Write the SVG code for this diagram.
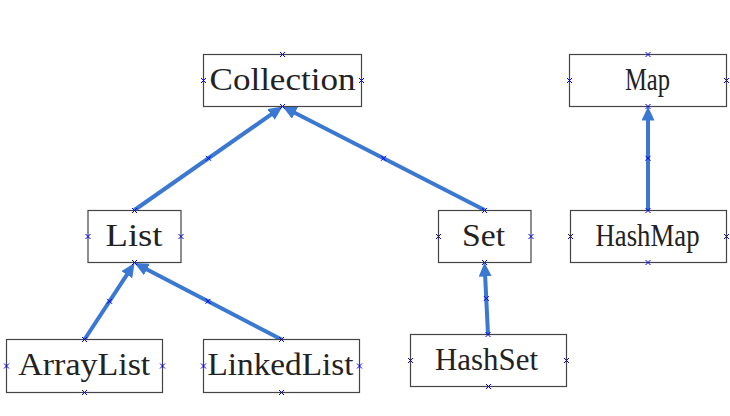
<svg xmlns="http://www.w3.org/2000/svg" xmlns:xlink="http://www.w3.org/1999/xlink" width="730" height="416" viewBox="0 0 730 416">
<style>
.box{fill:#fff;stroke:#444;stroke-width:1.2}
.lbl{font-family:"Liberation Serif","DejaVu Serif",serif;font-size:32px;fill:#222;text-anchor:middle}
.edge{stroke:#3a78d2;stroke-width:4;fill:none;marker-end:url(#arr)}
.xm{stroke:#0000ff;stroke-width:1;fill:none}
</style>
<defs>
<marker id="arr" markerUnits="userSpaceOnUse" markerWidth="16" markerHeight="14" refX="2" refY="6.5" orient="auto" viewBox="0 0 16 14">
<path d="M0,0 L14,6.5 L0,13 z" fill="#3a78d2"/>
</marker>
<path id="x" class="xm" d="M-2.5,-2.5 L2.5,2.5 M-2.5,2.5 L2.5,-2.5"/>
</defs>
<rect width="730" height="416" fill="#fff"/>
<g id="connectors">
<line class="edge" x1="134.5" y1="210" x2="272.67" y2="113.38"/>
<line class="edge" x1="484.5" y1="210" x2="293.18" y2="111.97"/>
<line class="edge" x1="84.5" y1="339.5" x2="127.93" y2="273.04"/>
<line class="edge" x1="281.5" y1="339.5" x2="145.15" y2="268.54"/>
<line class="edge" x1="488" y1="334.5" x2="485.08" y2="274.49"/>
<line class="edge" x1="648" y1="210" x2="648" y2="118.5"/>
<use xlink:href="#x" x="208.5" y="158.3"/>
<use xlink:href="#x" x="383.5" y="158.3"/>
<use xlink:href="#x" x="109.5" y="301.3"/>
<use xlink:href="#x" x="208" y="301.3"/>
<use xlink:href="#x" x="486.3" y="298.5"/>
<use xlink:href="#x" x="648" y="158.3"/>
</g>
<g id="collection">
<rect class="box" x="203.5" y="54.5" width="158" height="52"/>
<text class="lbl" x="282.5" y="90" textLength="146" lengthAdjust="spacingAndGlyphs">Collection</text>
<use xlink:href="#x" x="282.5" y="54.5"/><use xlink:href="#x" x="203.5" y="80.5"/><use xlink:href="#x" x="361.5" y="80.5"/><use xlink:href="#x" x="282.5" y="106.5"/>
</g>
<g id="map">
<rect class="box" x="569.5" y="54.5" width="157" height="52"/>
<text class="lbl" x="647.5" y="90" textLength="45" lengthAdjust="spacingAndGlyphs">Map</text>
<use xlink:href="#x" x="648" y="54.5"/><use xlink:href="#x" x="569.5" y="80.5"/><use xlink:href="#x" x="726.5" y="80.5"/><use xlink:href="#x" x="648" y="106.5"/>
</g>
<g id="list">
<rect class="box" x="88" y="210.5" width="93" height="52"/>
<text class="lbl" x="134" y="246" textLength="57" lengthAdjust="spacingAndGlyphs">List</text>
<use xlink:href="#x" x="134.5" y="210.5"/><use xlink:href="#x" x="88" y="236.5"/><use xlink:href="#x" x="181" y="236.5"/><use xlink:href="#x" x="134.5" y="262.5"/>
</g>
<g id="set">
<rect class="box" x="438.5" y="210.5" width="92.5" height="52"/>
<text class="lbl" x="483.5" y="246" textLength="43" lengthAdjust="spacingAndGlyphs">Set</text>
<use xlink:href="#x" x="484.5" y="210.5"/><use xlink:href="#x" x="438.5" y="236.5"/><use xlink:href="#x" x="531" y="236.5"/><use xlink:href="#x" x="484.5" y="262.5"/>
</g>
<g id="hashmap">
<rect class="box" x="570.5" y="210.5" width="156" height="52"/>
<text class="lbl" x="647.5" y="246" textLength="104" lengthAdjust="spacingAndGlyphs">HashMap</text>
<use xlink:href="#x" x="648" y="210.5"/><use xlink:href="#x" x="570.5" y="236.5"/><use xlink:href="#x" x="726.5" y="236.5"/><use xlink:href="#x" x="648" y="262.5"/>
</g>
<g id="arraylist">
<rect class="box" x="6.5" y="339.5" width="156" height="53"/>
<text class="lbl" x="84.3" y="375" textLength="132" lengthAdjust="spacingAndGlyphs">ArrayList</text>
<use xlink:href="#x" x="84.5" y="339.5"/><use xlink:href="#x" x="6.5" y="366"/><use xlink:href="#x" x="162.5" y="366"/><use xlink:href="#x" x="84.5" y="392.5"/>
</g>
<g id="linkedlist">
<rect class="box" x="203.5" y="339.5" width="156" height="53"/>
<text class="lbl" x="280.5" y="375" textLength="146" lengthAdjust="spacingAndGlyphs">LinkedList</text>
<use xlink:href="#x" x="281.5" y="339.5"/><use xlink:href="#x" x="203.5" y="366"/><use xlink:href="#x" x="359.5" y="366"/><use xlink:href="#x" x="281.5" y="392.5"/>
</g>
<g id="hashset">
<rect class="box" x="410.5" y="334.5" width="156" height="52"/>
<text class="lbl" x="486.5" y="369.5" textLength="103" lengthAdjust="spacingAndGlyphs">HashSet</text>
<use xlink:href="#x" x="488" y="334.5"/><use xlink:href="#x" x="410.5" y="360.5"/><use xlink:href="#x" x="566.5" y="360.5"/><use xlink:href="#x" x="488.5" y="386.5"/>
</g>
</svg>
